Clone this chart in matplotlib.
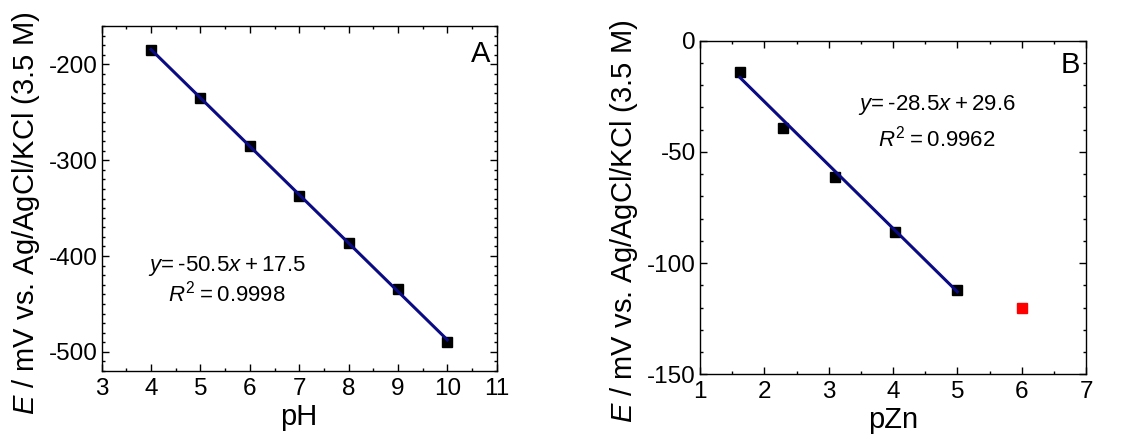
import numpy as np
import matplotlib
matplotlib.use('Agg')
import matplotlib.pyplot as plt
from matplotlib.ticker import MultipleLocator

plt.rcParams['font.family'] = ['Liberation Sans', 'DejaVu Sans']
plt.rcParams['mathtext.fontset'] = 'custom'
plt.rcParams['mathtext.rm'] = 'Liberation Sans'
plt.rcParams['mathtext.it'] = 'Liberation Sans:italic'
plt.rcParams['axes.unicode_minus'] = False

# panel A: potential vs pH
ph = [4, 5, 6, 7, 8, 9, 10]
e_ph = [-185.4, -235.5, -285.4, -337.2, -386.3, -434.4, -489.6]
slope_ph, icpt_ph = -50.5, 17.5

# panel B: potential vs pZn
pzn = [1.62, 2.29, 3.10, 4.03, 5.0]
e_pzn = [-13.9, -39.1, -61.1, -86.2, -112.2]
pzn_out = [6.0]
e_pzn_out = [-120.0]
slope_zn, icpt_zn = -28.5, 29.6

ylab = r'$E$ / mV vs. Ag/AgCl/KCl (3.5 M)'
ts = '\u2009'

fig = plt.figure(figsize=(11.37, 4.37), dpi=100)
ax1 = fig.add_axes([0.0894, 0.151, 0.3475, 0.7895])
ax2 = fig.add_axes([0.6157, 0.1435, 0.3395, 0.7634])

line_c = '#0a0a85'

# A
ax1.plot(ph, e_ph, 's', color='black', ms=7, zorder=2)
xf = np.array([ph[0], ph[-1]])
ax1.plot(xf, slope_ph*xf + icpt_ph, '-', color=line_c, lw=2.2, zorder=3)
ax1.set_xlim(3, 11)
ax1.set_ylim(-520, -160)
ax1.xaxis.set_major_locator(MultipleLocator(1))
ax1.xaxis.set_minor_locator(MultipleLocator(0.5))
ax1.yaxis.set_major_locator(MultipleLocator(100))
ax1.yaxis.set_minor_locator(MultipleLocator(10))
ax1.set_xlabel('pH', fontsize=21, labelpad=2)
ax1.set_ylabel(ylab, fontsize=21, va='baseline')
ax1.yaxis.set_label_coords(-0.171, 0.458)
ax1.text(5.53, -416, '$y$=' + ts + '-50.5$x$' + ts + '+' + ts + '17.5', fontsize=16, ha='center', va='baseline')
ax1.text(5.53, -447.6, '$R^2$' + ts + '=' + ts + '0.9998', fontsize=16, ha='center', va='baseline')
ax1.text(0.983, 0.8965, 'A', fontsize=21, ha='right', va='baseline', transform=ax1.transAxes)

# B
ax2.plot(pzn, e_pzn, 's', color='black', ms=7, zorder=2)
ax2.plot(pzn_out, e_pzn_out, 's', color='red', ms=7, zorder=2)
xf = np.array([pzn[0], pzn[-1]])
ax2.plot(xf, slope_zn*xf + icpt_zn, '-', color=line_c, lw=2.2, zorder=3)
ax2.set_xlim(1, 7)
ax2.set_ylim(-150, 0)
ax2.xaxis.set_major_locator(MultipleLocator(1))
ax2.xaxis.set_minor_locator(MultipleLocator(0.5))
ax2.yaxis.set_major_locator(MultipleLocator(50))
ax2.yaxis.set_minor_locator(MultipleLocator(10))
ax2.set_xlabel('pZn', fontsize=21, labelpad=2)
ax2.set_ylabel(ylab, fontsize=21, va='baseline')
ax2.yaxis.set_label_coords(-0.176, 0.458)
ax2.text(4.68, -31.2, '$y$=' + ts + '-28.5$x$' + ts + '+' + ts + '29.6', fontsize=16, ha='center', va='baseline')
ax2.text(4.68, -47.7, '$R^2$' + ts + '=' + ts + '0.9962', fontsize=16, ha='center', va='baseline')
ax2.text(0.984, 0.902, 'B', fontsize=21, ha='right', va='baseline', transform=ax2.transAxes)

for ax in (ax1, ax2):
    ax.tick_params(which='both', direction='in', top=True, right=True, labelsize=17.5)
    ax.tick_params(which='major', length=5, width=1)
    ax.tick_params(which='minor', length=2.5, width=1)
    ax.tick_params(axis='x', pad=5)
    ax.tick_params(axis='y', pad=3)
    for s in ax.spines.values():
        s.set_linewidth(1)

fig.savefig('out.png', dpi=100)
